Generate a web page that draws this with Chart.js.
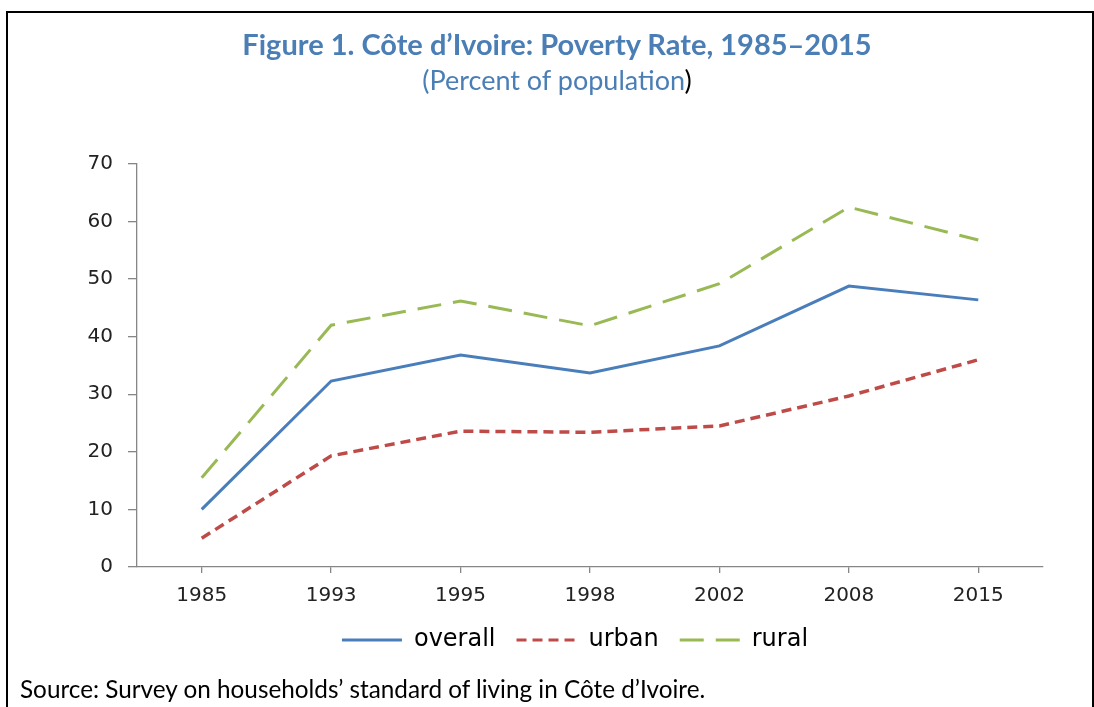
<!DOCTYPE html>
<html>
<head>
<meta charset="utf-8">
<script src="https://cdn.jsdelivr.net/npm/chart.js@4"></script>
<style>
  html, body { margin: 0; padding: 0; background: #fff; }
  #page { position: relative; width: 1094px; height: 707px; overflow: hidden; }
  #frame {
    position: absolute; left: 6px; top: 11px; width: 1084px; height: 720px;
    border-top: 2.5px solid #000; border-left: 2.5px solid #000; border-right: 2.5px solid #000;
  }
  #chart { position: absolute; left: 0; top: 0; }
  .title, .subtitle, .source { position: absolute; white-space: nowrap; }
  .title {
    left: 10px; width: 1094px; text-align: center; top: 26px;
    font: bold 29px Lato, sans-serif; color: #4a7eb5;
  }
  .subtitle {
    left: 10px; width: 1094px; text-align: center; top: 63px;
    font: 27px Lato, sans-serif; color: #4a7eb5;
  }
  .subtitle span { color: #000; }
  .source { left: 20px; top: 674px; font: 24.3px Lato, sans-serif; color: #000; }
</style>
</head>
<body>
<div id="page">
  <div id="frame"></div>
  <canvas id="chart" width="1094" height="707"></canvas>
  <div class="title">Figure 1. Côte d’Ivoire: Poverty Rate, 1985–2015</div>
  <div class="subtitle">(Percent of population<span>)</span></div>
  <div class="source">Source: Survey on households’ standard of living in Côte d’Ivoire.</div>
</div>
<script>
const years = ['1985', '1993', '1995', '1998', '2002', '2008', '2015'];
const overall = [10, 32.3, 36.8, 33.7, 38.4, 48.8, 46.4];
const urban = [5, 19.3, 23.6, 23.4, 24.5, 29.7, 36.0];
const rural = [15.5, 42.0, 46.2, 41.9, 49.2, 62.5, 56.8];
const yTicks = [0, 10, 20, 30, 40, 50, 60, 70];

const axisColor = '#868686';
const tickFont = { family: 'DejaVu Sans', size: 20 };

// move the legend so it sits where the original one is
const legendCenterX = 575;
const legendShift = {
    id: 'legendShift',
    afterLayout(chart) {
        const lg = chart.legend;
        const dx = legendCenterX - (lg.left + lg.right) / 2;
        lg.left += dx;
        lg.right += dx;
    }
};

new Chart(document.getElementById('chart').getContext('2d'), {
    type: 'line',
    data: {
        labels: years,
        datasets: [
            {
                label: 'overall',
                data: overall,
                borderColor: '#4a7ebb',
                backgroundColor: '#4a7ebb',
                borderWidth: 3
            },
            {
                label: 'urban',
                data: urban,
                borderColor: '#be4b48',
                backgroundColor: '#be4b48',
                borderWidth: 3.5,
                borderDash: [10, 6]
            },
            {
                label: 'rural',
                data: rural,
                borderColor: '#98b954',
                backgroundColor: '#98b954',
                borderWidth: 3,
                borderDash: [24, 12]
            }
        ]
    },
    options: {
        responsive: false,
        animation: false,
        elements: {
            point: { radius: 0 },
            line: { tension: 0 }
        },
        layout: {
            padding: { left: 0, right: 51, top: 164, bottom: 45 }
        },
        scales: {
            x: {
                offset: true,
                grid: { drawOnChartArea: false, tickLength: 6, color: axisColor, lineWidth: 1.3 },
                border: { color: axisColor, width: 1.3 },
                ticks: { color: '#222', font: tickFont, padding: 11, maxRotation: 0 },
                afterFit: (scale) => { scale.height = 40; }
            },
            y: {
                min: 0,
                max: 70,
                afterBuildTicks: (scale) => { scale.ticks = yTicks.map(v => ({ value: v })); },
                grid: { drawOnChartArea: false, tickLength: 9, color: axisColor, lineWidth: 1.3 },
                border: { color: axisColor, width: 1.3 },
                ticks: { color: '#222', font: tickFont, padding: 15 },
                afterFit: (scale) => { scale.width = 137; }
            }
        },
        plugins: {
            legend: {
                position: 'bottom',
                labels: {
                    usePointStyle: true,
                    pointStyle: 'line',
                    pointStyleWidth: 60,
                    padding: 21,
                    color: '#000',
                    font: { family: 'DejaVu Sans', size: 24 },
                    generateLabels: (chart) =>
                        Chart.defaults.plugins.legend.labels.generateLabels(chart).map((item, i) => ({
                            ...item,
                            lineDash: chart.data.datasets[i].borderDash || [],
                            lineWidth: 3
                        }))
                }
            },
            tooltip: { enabled: false }
        }
    },
    plugins: [legendShift]
});
</script>
</body>
</html>
